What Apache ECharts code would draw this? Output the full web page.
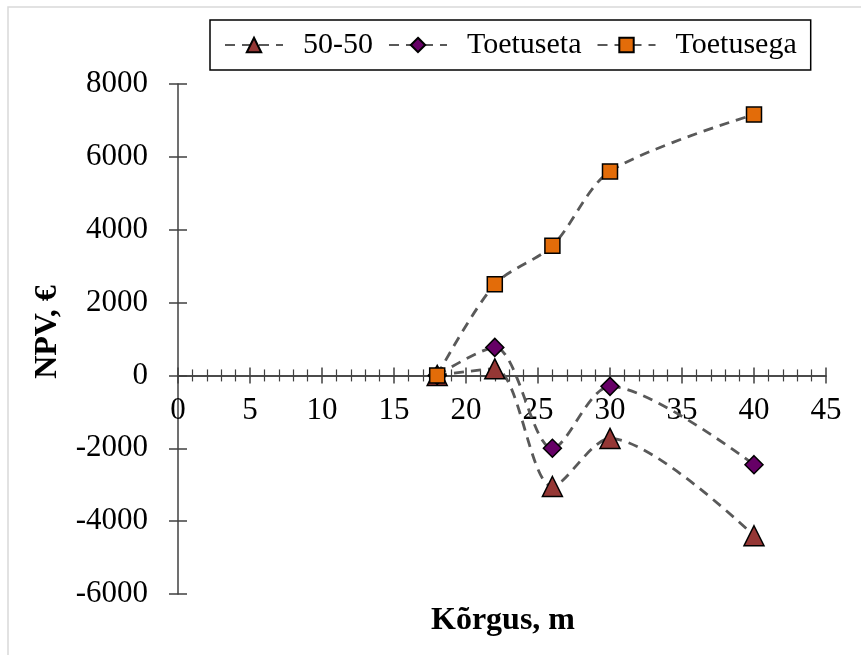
<!DOCTYPE html>
<html>
<head>
<meta charset="utf-8">
<script src="https://cdn.jsdelivr.net/npm/echarts@6/dist/echarts.min.js"></script>
<style>
html,body{margin:0;padding:0;background:#fff;}
#c{width:861px;height:655px;}
</style>
</head>
<body>
<div id="c"></div>
<script>
var heights = [18, 22, 26, 30, 40];
var s5050 = [0, 180, -3050, -1730, -4400];
var sToetuseta = [0, 770, -2000, -300, -2450];
var sToetusega = [0, 2500, 3560, 5600, 7160];
var seriesNames = ['50-50', 'Toetuseta', 'Toetusega'];
var xTitle = 'Kõrgus, m';
var yTitle = 'NPV, €';
var yMin = -6000, yMax = 8000, yStep = 2000;
var xMin = 0, xMax = 45, xStep = 5;

function pairs(vals){ return heights.map(function(h,i){ return [h, vals[i]]; }); }

var font = 'Liberation Serif, Times New Roman, serif';
var lineStyle = {color:'#595959', width:2.8, type:[10,7]};

function mk(name, vals, symbol, size, color){
  return {
    name:name, type:'line', smooth:0.3, data:pairs(vals),
    symbol:symbol, symbolSize:size,
    itemStyle:{color:color, borderColor:'#000', borderWidth:1.5},
    lineStyle:lineStyle, z:3
  };
}

var gridTop = 84, gridBottom = 61, H = 655;
var plotH = H - gridTop - gridBottom;
var zeroFromBottom = plotH * (0 - yMin) / (yMax - yMin);

var chart = echarts.init(document.getElementById('c'));
var axColor = '#404040';
function plain(v){ return String(v); }
chart.setOption({
  animation:false,
  backgroundColor:'#fff',
  textStyle:{fontFamily:font},
  graphic:[{type:'rect', shape:{x:8, y:7, width:900, height:700}, style:{fill:'none', stroke:'#d9d9d9', lineWidth:1.5}, silent:true, z:-1}],
  legend:{
    left:210, top:20, orient:'horizontal',
    data:seriesNames,
    itemWidth:58, itemHeight:18, itemGap:15,
    padding:[10,14,10,14],
    borderColor:'#000', borderWidth:1.5,
    textStyle:{fontFamily:font, fontSize:30, color:'#000', padding:[0,0,0,15]}
  },
  grid:{left:178, right:35, top:gridTop, bottom:gridBottom, outerBoundsMode:'none', containLabel:false},
  xAxis:[{
    type:'value', min:xMin, max:xMax, interval:xStep, position:'bottom',
    offset:-zeroFromBottom,
    axisLine:{onZero:false, lineStyle:{color:axColor, width:1.5}},
    axisTick:{show:true, length:8, lineStyle:{color:axColor, width:1.5}},
    minorTick:{show:true, splitNumber:5, length:6, lineStyle:{color:axColor, width:1.2}},
    axisLabel:{fontFamily:font, fontSize:31, color:'#000', margin:20, formatter:plain},
    splitLine:{show:false}
  },{
    type:'value', min:xMin, max:xMax, interval:xStep, position:'top',
    offset:-(plotH - zeroFromBottom),
    axisLine:{onZero:false, lineStyle:{color:axColor, width:1.5}},
    axisTick:{show:true, length:8, lineStyle:{color:axColor, width:1.5}},
    minorTick:{show:true, splitNumber:5, length:6, lineStyle:{color:axColor, width:1.2}},
    axisLabel:{show:false}, splitLine:{show:false}
  }],
  yAxis:[{
    type:'value', min:yMin, max:yMax, interval:yStep, position:'left',
    axisLine:{onZero:false, lineStyle:{color:axColor, width:1.5}},
    axisTick:{show:true, length:9, lineStyle:{color:axColor, width:1.5}},
    axisLabel:{fontFamily:font, fontSize:31, color:'#000', margin:30, formatter:plain},
    splitLine:{show:false},
    name:yTitle, nameLocation:'middle', nameGap:114,
    nameTextStyle:{fontFamily:font, fontSize:32, fontWeight:'bold', color:'#000', padding:[0,0,0,14]}
  },{
    type:'value', min:yMin, max:yMax, interval:yStep, position:'left',
    axisLine:{onZero:false, show:false},
    axisTick:{show:true, inside:true, length:9, lineStyle:{color:axColor, width:1.5}},
    axisLabel:{show:false}, splitLine:{show:false}
  }],
  title:{
    text:xTitle, left:498, top:600, textAlign:'center',
    textStyle:{fontFamily:font, fontSize:32, fontWeight:'bold', color:'#000'}
  },
  series:[
    mk(seriesNames[0], s5050, 'triangle', 20, '#953735'),
    mk(seriesNames[1], sToetuseta, 'diamond', 18, '#660066'),
    mk(seriesNames[2], sToetusega, 'rect', 15, '#E36C09')
  ]
});
</script>
</body>
</html>
